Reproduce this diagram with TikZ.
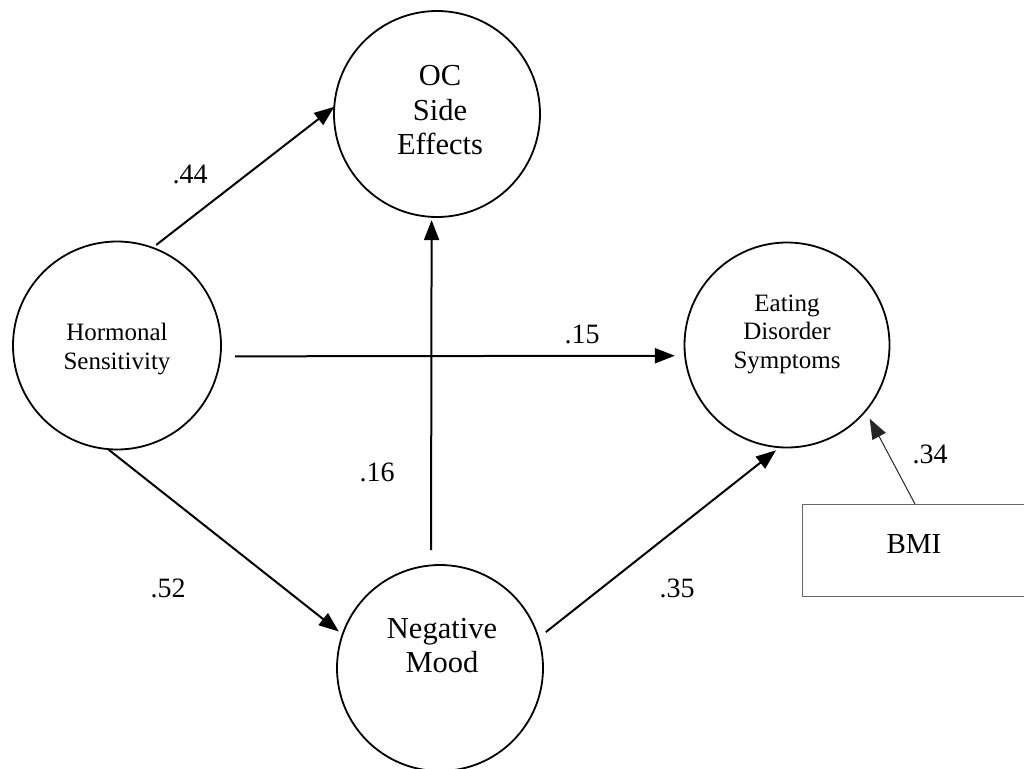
\documentclass[tikz,border=0pt]{standalone}
\usepackage{fontspec}
\setmainfont{Liberation Serif}
\usetikzlibrary{arrows.meta}
\begin{document}
\begin{tikzpicture}[x=1pt,y=-1pt,
  circ/.style={draw, circle, line width=1.8pt, minimum size=#1, inner sep=0pt, outer sep=0pt},
  smalltxt/.style={align=center, inner sep=0pt, font=\fontsize{25}{28.5}\selectfont},
  bigtxt/.style={align=center, inner sep=0pt, font=\fontsize{30.5}{34.5}\selectfont},
  lab/.style={inner sep=0pt, font=\fontsize{28}{30}\selectfont},
  arr/.style={line width=2pt, -{Triangle[length=20pt,width=15pt]}},
  thinarr/.style={line width=1pt, -{Triangle[length=20pt,width=15pt]}, black!85}
]
\useasboundingbox (0,0) rectangle (1024,768);

% circles
\node[circ=208pt] (hs) at (117,345.5) {};
\node[circ=206pt] (oc) at (437,114) {};
\node[circ=205pt] (eds) at (787,345) {};
\node[circ=206pt] (nm) at (440,668) {};

% circle texts
\node[smalltxt] (hst) at (117,349) {Hormonal\\Sensitivity};
\node[bigtxt] (oct) at (440,110.5) {OC\\Side\\Effects};
\node[smalltxt] (edst) at (787,334) {Eating\\Disorder\\Symptoms};
\node[bigtxt] (nmt) at (442,645.7) {Negative\\Mood};

% BMI box
\node[draw=black!60, line width=0.9pt, minimum width=226pt, minimum height=92pt,
      inner sep=0pt, outer sep=0pt, anchor=north west] (bmi) at (802,504) {};
\node[lab, font=\fontsize{29}{30}\selectfont] (bmit) at (914,544) {BMI};

% connectors
\draw[arr, shorten <=4.6pt] (hs.70.6) -- (oc.176);
\draw[arr, shorten <=14.6pt, shorten >=10.2pt] (hs.-6.35) -- (eds.186.72);
\draw[arr, shorten <=1pt, shorten >=4.8pt] (hs.-95.5) -- (nm.161);
\draw[arr, shorten <=15.4pt, shorten >=3.2pt] (nm.95.57) -- (oc.-93.9);
\draw[arr, shorten <=9.3pt, shorten >=4.9pt] (nm.17.6) -- (eds.-94.8);
\draw[thinarr, shorten >=8.9pt] (bmi.north) -- (eds.-40.3);

% path labels
\node[lab] (l44) at (190,174) {.44};
\node[lab] (l15) at (582,334) {.15};
\node[lab] (l52) at (168,588) {.52};
\node[lab] (l16) at (377,472) {.16};
\node[lab] (l35) at (677,588) {.35};
\node[lab] (l34) at (930,454) {.34};
\end{tikzpicture}
\end{document}
